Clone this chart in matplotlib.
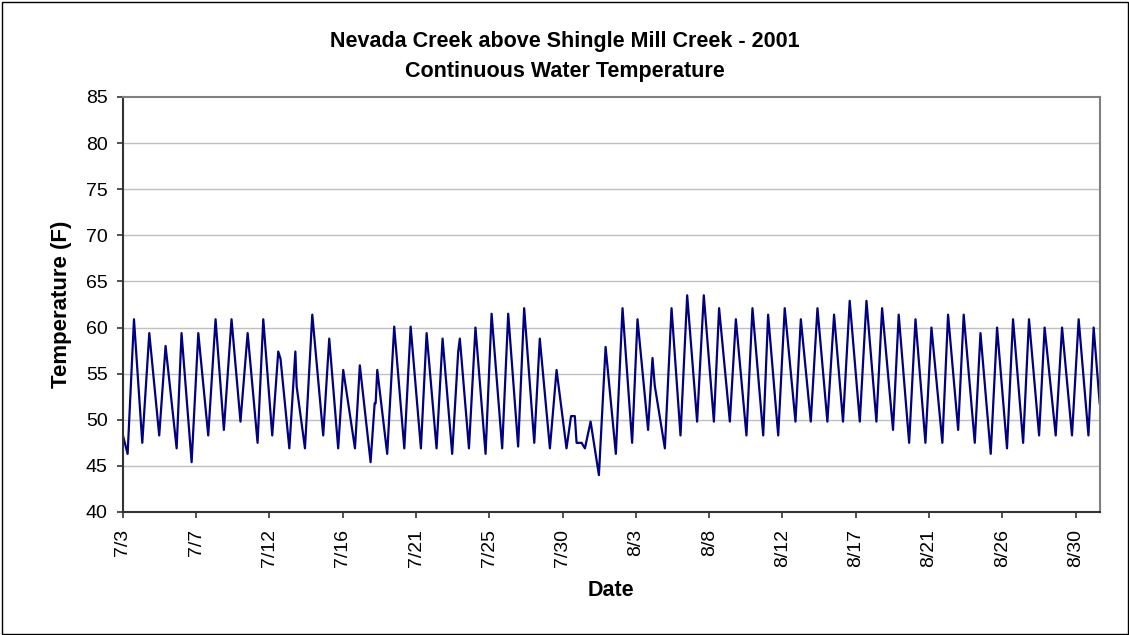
import matplotlib
matplotlib.use("Agg")
import matplotlib.pyplot as plt
from matplotlib.patches import Rectangle

# ---- data ----
# time in days since 2001-07-03 00:00, daily lows / highs and visible shoulders
day_offset = [0.0, 0.29, 0.68, 1.19, 1.62, 2.23, 2.62, 3.30, 3.60, 4.22, 4.63, 5.24,
              5.69, 6.20, 6.67, 7.22, 7.66, 8.27, 8.62, 9.17, 9.54, 9.68, 10.22, 10.59,
              10.67, 11.18,
              11.63, 12.30, 12.67, 13.22, 13.53, 14.25, 14.55, 15.21, 15.46, 15.52, 15.62,
              16.23, 16.66,
              17.28, 17.67, 18.30, 18.65, 19.26, 19.63, 20.22, 20.59, 20.69, 21.25, 21.65,
              22.27,
              22.64, 23.29, 23.66, 24.27, 24.64, 25.26, 25.60, 26.22, 26.63, 27.24, 27.52,
              27.75, 27.86, 28.17,
              28.37, 28.72, 29.23, 29.64, 30.27, 30.68, 31.27, 31.60, 32.25, 32.52, 32.66,
              33.28,
              33.69, 34.24, 34.65, 35.26, 35.67, 36.29, 36.61, 37.27, 37.64, 38.29, 38.66,
              39.32, 39.62, 40.24, 40.64, 41.30, 41.63, 42.24, 42.65, 43.26, 43.67, 44.22,
              44.63, 45.25, 45.66, 46.27, 46.62, 47.29, 47.64, 48.28, 48.67, 49.28, 49.65,
              50.32, 50.67, 51.29, 51.63, 52.31, 52.66, 53.29, 53.68, 54.29, 54.66, 55.28,
              55.64, 56.26, 56.60, 57.28, 57.67, 58.28, 58.69, 59.29, 59.61, 59.98]
temp_f = [48.3, 46.3, 60.9, 47.5, 59.4, 48.3, 58.0, 46.9, 59.4, 45.4, 59.4, 48.3,
          60.9, 48.9, 60.9, 49.8, 59.4, 47.5, 60.9, 48.3, 57.4, 56.6, 46.9, 57.4,
          53.6, 46.9,
          61.4, 48.3, 58.8, 46.9, 55.4, 46.9, 55.9, 45.4, 51.8, 51.8, 55.4,
          46.3, 60.1,
          46.9, 60.1, 46.9, 59.4, 46.9, 58.8, 46.3, 57.4, 58.8, 46.9, 60.0,
          46.3,
          61.5, 46.9, 61.5, 47.1, 62.1, 47.5, 58.8, 46.9, 55.4, 46.9, 50.4,
          50.4, 47.5, 47.5,
          46.9, 49.8, 44.0, 57.9, 46.3, 62.1, 47.5, 60.9, 48.9, 56.7, 53.7,
          46.9,
          62.1, 48.3, 63.5, 49.8, 63.5, 49.8, 62.1, 49.8, 60.9, 48.3, 62.1,
          48.3, 61.4, 48.3, 62.1, 49.8, 60.9, 49.8, 62.1, 49.8, 61.4, 49.8,
          62.9, 49.8, 62.9, 49.8, 62.1, 48.9, 61.4, 47.5, 60.9, 47.5, 60.0,
          47.5, 61.4, 48.9, 61.4, 47.5, 59.4, 46.3, 60.0, 46.9, 60.9, 47.5,
          60.9, 48.3, 60.0, 48.3, 60.0, 48.3, 60.9, 48.3, 60.0, 51.8]
tick_labels = ["7/3", "7/7", "7/12", "7/16", "7/21", "7/25", "7/30",
               "8/3", "8/8", "8/12", "8/17", "8/21", "8/26", "8/30"]
tick_step_days = 4.5
y_ticks = [40, 45, 50, 55, 60, 65, 70, 75, 80, 85]
title_lines = ["Nevada Creek above Shingle Mill Creek - 2001", "Continuous Water Temperature"]

# ---- figure ----
W, H = 1129, 635
plt.rcParams['font.family'] = ['Liberation Sans', 'DejaVu Sans']
fig = plt.figure(figsize=(W / 100, H / 100), dpi=100)
fig.patch.set_facecolor('white')

left, right, top, bottom = 122.9, 1100, 97, 512
ax = fig.add_axes([left / W, 1 - bottom / H, (right - left) / W, (bottom - top) / H])

ax.plot(day_offset, temp_f, color='#000080', lw=1.6, solid_joinstyle='round')

ax.set_xlim(0, 60)
ax.set_ylim(40, 85)
ax.set_yticks(y_ticks)
ax.set_xticks([i * tick_step_days for i in range(len(tick_labels))])
ax.set_xticklabels(tick_labels, rotation=90, ha='center', va='top')

for v in y_ticks[1:-1]:
    ax.axhline(v, color='#c0c0c0', lw=1.0, zorder=0)

for s in ['top', 'right']:
    ax.spines[s].set_color('#808080')
    ax.spines[s].set_linewidth(1.5)
for s in ['left', 'bottom']:
    ax.spines[s].set_color('#333333')
    ax.spines[s].set_linewidth(1.5)

ax.tick_params(axis='both', direction='out', length=4, width=1.2, color='#333333',
               labelsize=14, labelcolor='black')
ax.tick_params(axis='y', pad=7)
ax.tick_params(axis='x', pad=8)

fig.text(0.5, 1 - 41 / H, title_lines[0], ha='center', va='center',
         fontsize=15.5, fontweight='bold')
fig.text(0.5, 1 - 71 / H, title_lines[1], ha='center', va='center',
         fontsize=15.5, fontweight='bold')
fig.text(61 / W, 1 - 304.5 / H, "Temperature (F)", rotation=90, ha='center',
         va='center', fontsize=16, fontweight='bold')
fig.text(611 / W, 1 - 590 / H, "Date", ha='center', va='center',
         fontsize=15.5, fontweight='bold')

fig.patches.append(Rectangle((1.5 / W, 1.5 / H), (W - 3) / W, (H - 3) / H,
                             transform=fig.transFigure, fill=False,
                             edgecolor='black', lw=1.0))

fig.savefig("out.png", dpi=100, facecolor='white')
